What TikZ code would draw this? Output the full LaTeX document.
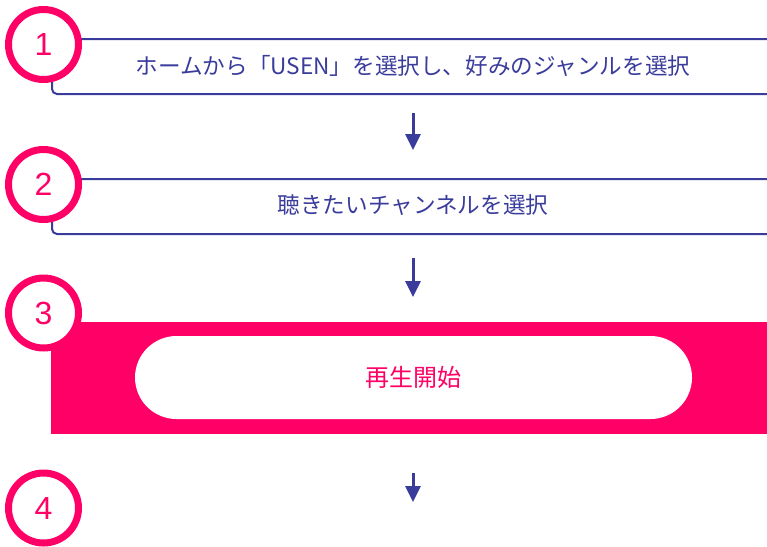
\documentclass[tikz,border=0pt]{standalone}
\usepackage{fontspec}
\setmainfont{Liberation Sans}
\newfontfamily\jp{Noto Sans CJK JP}
\usetikzlibrary{arrows.meta}
\definecolor{navy}{RGB}{58,60,156}
\definecolor{hotpink}{RGB}{255,0,102}
\tikzset{
  stepbox/.style={draw=navy, line width=2pt, rounded corners=5pt, anchor=north west, minimum width=760pt, inner sep=0pt},
  numcircle/.style={circle, draw=hotpink, line width=7pt, fill=white, minimum size=70pt, inner sep=0pt, text=hotpink, font=\fontsize{32}{32}\selectfont},
  steptext/.style={font=\jp\fontsize{22.6}{24}\selectfont, text=navy, inner sep=0pt},
  flowarrow/.style={draw=navy, line width=3pt, -{Triangle[width=15pt,length=16pt]}},
}
\begin{document}
\begin{tikzpicture}[x=1pt,y=-1pt]
\useasboundingbox (0,0) rectangle (767,546);
% step 1
\node[stepbox, minimum height=55pt] (b1) at (51,38) {};
\node[steptext] (t1) at (413,65.5) {ホームから「USEN」を選択し、好みのジャンルを選択};
\node[numcircle] (c1) at (43.5,44.5) {1};
% step 2
\node[stepbox, minimum height=55pt] (b2) at (51,178) {};
\node[steptext] (t2) at (413,205.5) {聴きたいチャンネルを選択};
\node[numcircle] (c2) at (43.5,184.5) {2};
% step 3
\node[fill=hotpink, anchor=north west, minimum width=760pt, minimum height=112pt, inner sep=0pt] (b3) at (51,322) {};
\node[fill=white, rounded corners=41.5pt, minimum width=557pt, minimum height=83pt, inner sep=0pt] (p3) at (413.5,377.5) {};
\node[steptext, text=hotpink, font=\jp\fontsize{24}{26}\selectfont] (t3) at (413,377.5) {再生開始};
\node[numcircle] (c3) at (43.5,313) {3};
% step 4
\node[numcircle] (c4) at (43.5,508) {4};
% arrows
\coordinate (a1s) at (413,113);
\coordinate (a1e) at (413,150);
\coordinate (a2s) at (413,258);
\coordinate (a2e) at (413,297);
\coordinate (a3s) at (413,473);
\coordinate (a3e) at (413,502);
\draw[flowarrow] (a1s) -- (a1e);
\draw[flowarrow] (a2s) -- (a2e);
\draw[flowarrow] (a3s) -- (a3e);
\end{tikzpicture}
\end{document}
